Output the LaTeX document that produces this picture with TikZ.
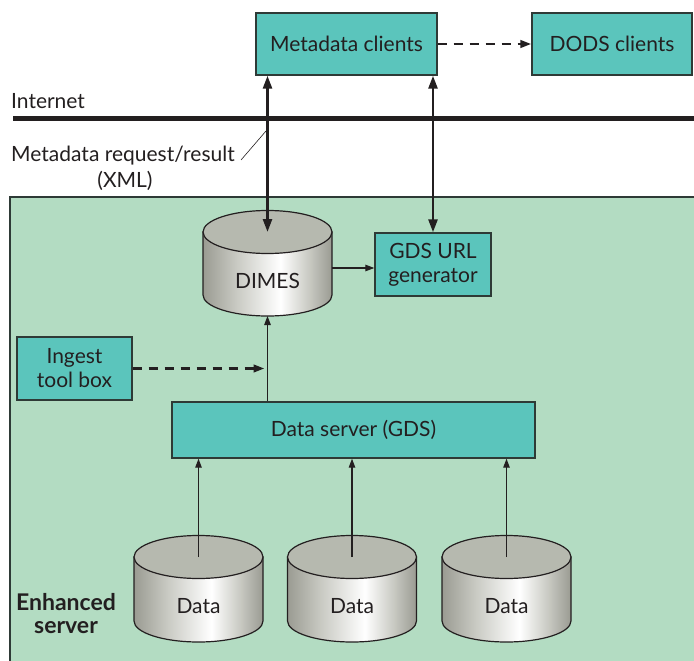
\documentclass[tikz,border=0pt]{standalone}
\usepackage{fontspec}
\setmainfont{Lato}
\usetikzlibrary{arrows.meta}
\definecolor{teal1}{HTML}{5BC5BC}
\definecolor{srvgreen}{HTML}{B3DCC2}
\definecolor{ink}{HTML}{231F20}
\definecolor{bord}{HTML}{2E3A36}
\definecolor{cgD}{HTML}{9A9B92}
\definecolor{cgM}{HTML}{C9CAC3}
\definecolor{cyltop}{HTML}{B6B9AF}
\pgfdeclarehorizontalshading{cylshade}{100bp}{color(0bp)=(cgD); color(25bp)=(cgD); color(38bp)=(cgM); color(55bp)=(white); color(66bp)=(cgM); color(75bp)=(cgD); color(100bp)=(cgD)}
\newcommand\drawcyl[5]{%
  \path[draw=ink, line width=1.2, shading=cylshade] (#2-64.5,#3) -- (#2-64.5,#4) arc[start angle=180,end angle=0,x radius=64.5,y radius=21] -- (#2+64.5,#3) -- cycle;
  \filldraw[fill=cyltop, draw=ink, line width=1.2] (#2,#3) ellipse[x radius=64.5,y radius=21.5];
  \coordinate (#1top) at (#2,#3);
  \coordinate (#1bot) at (#2,#4+21);
  \node[txt] (#1) at (#2,{(#3+#4)/2+17}) {#5};
}
\begin{document}
\begin{tikzpicture}[x=1pt,y=-1pt,
  txt/.style={font=\fontsize{21}{24}\selectfont, text=ink, inner sep=0pt},
  tbox/.style={txt, draw=bord, line width=1.4, fill=teal1, align=center},
  thinarrow/.style={draw=ink, line width=1.2, -{Triangle[length=9,width=6.5]}},
  bigarrow/.style={draw=ink, line width=2.6, {Triangle[length=13,width=9]}-{Triangle[length=13,width=9]}},
  dasharrow/.style={draw=ink, line width=2.6, dash pattern=on 9 off 7, -{Triangle[length=11,width=7.5]}}
]
\useasboundingbox (0,0) rectangle (694,661);
\begin{scope}
  \clip (0,0) rectangle (694,661);
  \fill[srvgreen] (10,197) rectangle (700,670);
  \draw[bord, line width=1.6] (10,670) -- (10,197) -- (700,197);
\end{scope}

% top boxes
\node[tbox, minimum width=181, minimum height=62] (meta) at (346.5,44) {Metadata clients};
\node[tbox, minimum width=160, minimum height=62] (dods) at (612,44) {DODS clients};
\draw[dasharrow] (meta.east) -- (dods.west);

% internet
\node[txt, anchor=west] (inet) at (11,101) {Internet};
\coordinate (netL) at (13,118);
\coordinate (netR) at (694,118);
\draw[ink, line width=5] (netL) -- (netR);
\node[txt] (mdreq) at (123,156) {Metadata request/result};
\node[txt] (xml) at (125,181) {(XML)};
\coordinate (leadA) at (241,160);
\coordinate (leadB) at (266,131);
\draw[ink, line width=0.6] (leadA) -- (leadB);

% DIMES and GDS URL
\drawcyl{dimes}{267.5}{232}{295}{DIMES}
\node[tbox, minimum width=116, minimum height=63] (gds) at (433,264.5) {GDS URL\\generator};
\draw[bigarrow] (dimestop) -- (dimestop |- meta.south);
\draw[bigarrow] (gds.north) -- (gds.north |- meta.south);
\coordinate (dimesR) at (332,268);
\draw[thinarrow] (dimesR) -- (dimesR -| gds.west);

% ingest and server
\node[tbox, minimum width=115, minimum height=63] (ingest) at (74.5,368.5) {Ingest\\tool box};
\node[tbox, minimum width=363, minimum height=56] (server) at (353.5,430) {Data server (GDS)};
\draw[thinarrow] (server.north -| dimesbot) -- (dimesbot);
\draw[dasharrow, shorten >=3] (ingest.east) -- (ingest.east -| dimesbot);

% data cylinders
\drawcyl{dA}{198.5}{557}{621}{Data}
\drawcyl{dB}{352}{557}{621}{Data}
\drawcyl{dC}{506.5}{557}{621}{Data}
\draw[thinarrow] (dAtop) -- (dAtop |- server.south);
\draw[thinarrow] (dBtop) -- (dBtop |- server.south);
\draw[thinarrow] (dCtop) -- (dCtop |- server.south);

\node[txt, font=\fontsize{23}{23}\selectfont\bfseries, align=center] (enh) at (66,614) {Enhanced\\server};
\end{tikzpicture}
\end{document}
